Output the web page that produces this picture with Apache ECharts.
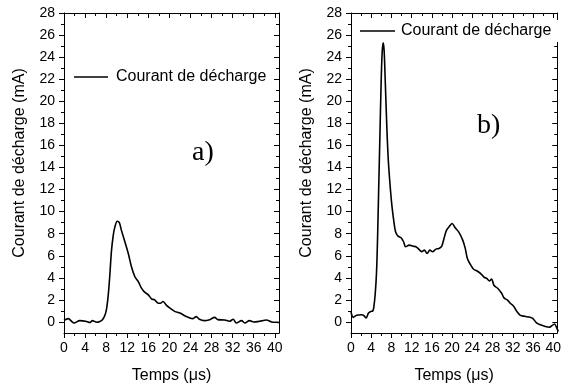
<!DOCTYPE html>
<html>
<head>
<meta charset="utf-8">
<script src="https://cdn.jsdelivr.net/npm/echarts@6/dist/echarts.min.js"></script>
<style>
  html, body { margin: 0; padding: 0; background: #fff; }
  #chart { width: 564px; height: 389px; }
</style>
</head>
<body>
<div id="chart"></div>
<script>
// courbes de courant de décharge, panneaux a) et b)
const tempsA = [0, 0.8, 1.9, 3.0, 4.3, 4.9, 5.4, 6.2, 6.8, 7.3, 7.8, 8.1, 8.4, 8.7, 9.0, 9.35, 9.66, 10.1, 10.5, 10.9,
  11.55, 12.2, 12.8, 13.45, 14.1, 14.7, 15.3, 16.0, 16.6, 17.2, 17.9, 18.3, 18.8, 19.45, 20.1, 21.0, 22.0, 22.9, 23.9, 24.4,
  25.1, 25.7, 26.6, 27.65, 28.6, 29.2, 30.5, 31.4, 32.1, 32.7, 33.7, 34.3, 35.2, 36.0, 37.1, 38.4, 39.4, 40.3, 40.8]
const courantA = [0.15, 0.3, -0.1, 0.12, 0.05, -0.05, 0.12, -0.02, 0.05, 0.2, 0.66, 1.26, 2.46, 4.26, 6.4, 7.87, 8.62, 9.13, 9.0, 8.3,
  7.27, 6.2, 5.0, 4.1, 3.66, 3.06, 2.7, 2.46, 2.1, 2.0, 1.7, 1.7, 1.86, 1.5, 1.26, 0.96, 0.81, 0.57, 0.36, 0.3,
  0.48, 0.24, 0.12, 0.21, 0.42, 0.21, 0.18, 0.06, 0.24, -0.09, 0.12, -0.09, 0.12, 0, 0.06, 0.18, 0, -0.03, -0.05]

const tempsB = [0, 0.45, 1.1, 2.05, 2.5, 3.0, 3.46, 3.97, 4.3, 4.5, 4.8, 5.05, 5.25, 5.45, 5.7, 5.95, 6.15, 6.35, 6.55, 6.8,
  7.1, 7.4, 7.8, 8.1, 8.45, 8.8, 9.3, 9.9, 10.4, 10.8, 11.5, 12.3, 12.9, 13.6, 14.0, 14.5, 15.06, 15.6, 16.15, 16.8,
  17.4, 17.95, 18.4, 18.9, 19.55, 20.0, 20.6, 21.3, 22.1, 22.6, 23.0, 23.5, 24.2, 25.1, 25.8, 26.4, 26.8, 27.4, 27.8, 28.3,
  29.0, 29.8, 30.3, 30.9, 31.5, 32.2, 32.8, 33.5, 34.4, 35.4, 36.0, 36.7, 37.3, 38.3, 39.2, 39.6, 40.25, 40.7, 41.0]
const courantB = [0.9, 0.42, 0.6, 0.66, 0.6, 0.36, 0.81, 0.96, 1.0, 1.3, 2.6, 4.5, 7.5, 11.5, 16.5, 21.5, 24.3, 25.3, 24.6, 21.5,
  17.5, 14.5, 12.0, 10.5, 9.2, 8.2, 7.78, 7.63, 7.27, 6.82, 6.96, 6.87, 6.8, 6.51, 6.37, 6.51, 6.2, 6.51, 6.37, 6.6,
  6.66, 6.87, 7.57, 8.32, 8.71, 8.92, 8.53, 8.17, 7.42, 6.67, 5.77, 5.3, 4.8, 4.57, 4.32, 4.03, 3.97, 3.72, 3.9, 3.3,
  3.06, 2.6, 2.16, 2.0, 1.7, 1.41, 0.96, 0.6, 0.51, 0.42, 0.3, -0.09, -0.24, -0.39, -0.48, -0.39, -0.18, -0.54, -0.87]

const xTicks = [0, 4, 8, 12, 16, 20, 24, 28, 32, 36, 40]
const xMinorTicks = [2, 6, 10, 14, 18, 22, 26, 30, 34, 38]
const yTicks = [0, 2, 4, 6, 8, 10, 12, 14, 16, 18, 20, 22, 24, 26, 28]
const yMinorTicks = [1, 3, 5, 7, 9, 11, 13, 15, 17, 19, 21, 23, 25, 27]

const X_MIN = 0
const X_MAX = 40.8
const Y_MIN = -1
const Y_MAX = 28

const nomSerie = 'Courant de décharge'
const font = '"Liberation Sans", Arial, sans-serif'
const noir = '#000'

function pairs(xs, ys) {
  return xs.map((x, i) => [x, ys[i]])
}

// axe principal avec graduations (dehors) ou axe miroir (dedans)
function xAxe(grid, position, values, length, inside, withLine, withLabel) {
  const axe = {
    gridIndex: grid,
    type: 'value',
    position: position,
    min: X_MIN,
    max: X_MAX,
    axisLine: { show: withLine, onZero: false, lineStyle: { color: noir, width: 1 } },
    axisTick: { show: true, inside: inside, length: length, customValues: values, lineStyle: { color: noir, width: 1 } },
    axisLabel: { show: withLabel, customValues: values, fontSize: 14, color: noir, fontFamily: font, margin: 8 },
    splitLine: { show: false }
  }
  if (withLabel) {
    axe.name = 'Temps (μs)'
    axe.nameLocation = 'middle'
    axe.nameGap = 35
    axe.nameTextStyle = { fontSize: 16, color: noir, fontFamily: font }
  }
  return axe
}

function yAxe(grid, position, values, length, inside, withLine, withLabel) {
  const axe = {
    gridIndex: grid,
    type: 'value',
    position: position,
    min: Y_MIN,
    max: Y_MAX,
    axisLine: { show: withLine, onZero: false, lineStyle: { color: noir, width: 1 } },
    axisTick: { show: true, inside: inside, length: length, customValues: values, lineStyle: { color: noir, width: 1 } },
    axisLabel: { show: withLabel, customValues: values, fontSize: 14, color: noir, fontFamily: font, margin: 9 },
    splitLine: { show: false }
  }
  if (withLabel) {
    axe.name = 'Courant de décharge (mA)'
    axe.nameLocation = 'middle'
    axe.nameGap = 36
    axe.nameTextStyle = { fontSize: 16, color: noir, fontFamily: font, padding: [0, 0, 0, 20] }
  }
  return axe
}

const xAxes = []
const yAxes = []
for (let g = 0; g < 2; g++) {
  xAxes.push(xAxe(g, 'bottom', xTicks, 5, false, true, true))
  xAxes.push(xAxe(g, 'bottom', xMinorTicks, 3, false, false, false))
  xAxes.push(xAxe(g, 'top', xTicks, 5, true, true, false))
  xAxes.push(xAxe(g, 'top', xMinorTicks, 3, true, false, false))
  yAxes.push(yAxe(g, 'left', yTicks, 5, false, true, true))
  yAxes.push(yAxe(g, 'left', yMinorTicks, 3, false, false, false))
  yAxes.push(yAxe(g, 'right', yTicks, 5, true, true, false))
  yAxes.push(yAxe(g, 'right', yMinorTicks, 3, true, false, false))
}

const chart = echarts.init(document.getElementById('chart'))
chart.setOption({
  backgroundColor: '#fff',
  animation: false,
  grid: [
    { left: 64, right: 285, top: 13, bottom: 54 },
    { left: 351, right: 1, top: 13, bottom: 54 }
  ],
  legend: [
    {
      data: [nomSerie],
      icon: 'rect',
      left: 74,
      top: 69,
      padding: 0,
      itemWidth: 34,
      itemHeight: 1.6,
      itemStyle: { color: noir },
      textStyle: { fontSize: 16, color: noir, fontFamily: font, padding: [0, 0, 0, 3] }
    },
    {
      data: [nomSerie],
      icon: 'rect',
      left: 358,
      top: 20,
      padding: [3, 9, 3, 2],
      backgroundColor: '#fff',
      itemWidth: 35,
      itemHeight: 1.6,
      itemStyle: { color: noir },
      textStyle: { fontSize: 16, color: noir, fontFamily: font, padding: [0, 0, 0, 1] }
    }
  ],
  xAxis: xAxes,
  yAxis: yAxes,
  graphic: [
    {
      type: 'text',
      x: 192,
      y: 153,
      style: { text: 'a)', font: '28px "Liberation Serif", "Times New Roman", serif', fill: noir, verticalAlign: 'middle' }
    },
    {
      type: 'text',
      x: 477,
      y: 126,
      style: { text: 'b)', font: '28px "Liberation Serif", "Times New Roman", serif', fill: noir, verticalAlign: 'middle' }
    }
  ],
  series: [
    {
      name: nomSerie,
      type: 'line',
      xAxisIndex: 0,
      yAxisIndex: 0,
      data: pairs(tempsA, courantA),
      symbol: 'none',
      smooth: 0.3,
      lineStyle: { color: noir, width: 1.6 },
      itemStyle: { color: noir }
    },
    {
      name: nomSerie,
      type: 'line',
      xAxisIndex: 4,
      yAxisIndex: 4,
      data: pairs(tempsB, courantB),
      symbol: 'none',
      smooth: 0.3,
      lineStyle: { color: noir, width: 1.6 },
      itemStyle: { color: noir }
    }
  ]
})
</script>
</body>
</html>
